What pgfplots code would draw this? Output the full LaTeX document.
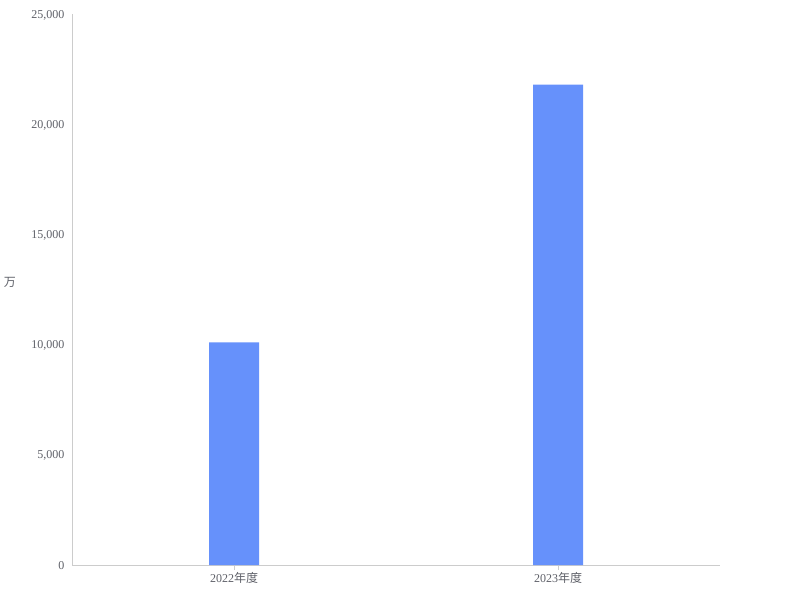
\documentclass[border=0pt]{standalone}
\usepackage{pgfplots}
\pgfplotsset{compat=1.18}
\usepackage{fontspec}
\setmainfont{Liberation Serif}
\newfontfamily\cjk{Noto Sans CJK SC}
\definecolor{barc}{HTML}{6691FB}
\definecolor{lab}{HTML}{5E6068}
\definecolor{axl}{HTML}{CCCCCC}
\begin{document}
\begin{tikzpicture}[x=1pt,y=1pt]
\path[use as bounding box] (0,0) rectangle (800,600);
\begin{axis}[
  at={(72pt,35pt)}, anchor=south west,
  scale only axis, width=648pt, height=551pt,
  xmin=-0.5, xmax=1.5, ymin=0, ymax=25000,
  axis x line=bottom, axis y line=left,
  axis line style={axl, -},
  xtick={0,1}, xticklabels={2022{\cjk 年度},2023{\cjk 年度}},
  ytick={0,5000,10000,15000,20000,25000},
  scaled y ticks=false,
  /pgf/number format/1000 sep={,},
  /pgf/number format/assume math mode=true,
  ticklabel style={font=\fontsize{12}{14}\selectfont, text=lab},
  y tick label style={xshift=1pt, yshift=-1pt},
  x tick label style={yshift=1pt},
  xtick style={axl, thin},
  major tick length=5pt,
  tick align=outside,
  ytick style={draw=none},
  ylabel={\cjk 万},
  ylabel style={at={(axis description cs:-0.096,0.512)}, anchor=center, rotate=-90, font=\fontsize{12}{14}\selectfont, text=lab},
  ybar, bar width=50pt,
]
\addplot[fill=barc, draw=none] coordinates {(0,10100) (1,21800)};
\end{axis}
\end{tikzpicture}
\end{document}
